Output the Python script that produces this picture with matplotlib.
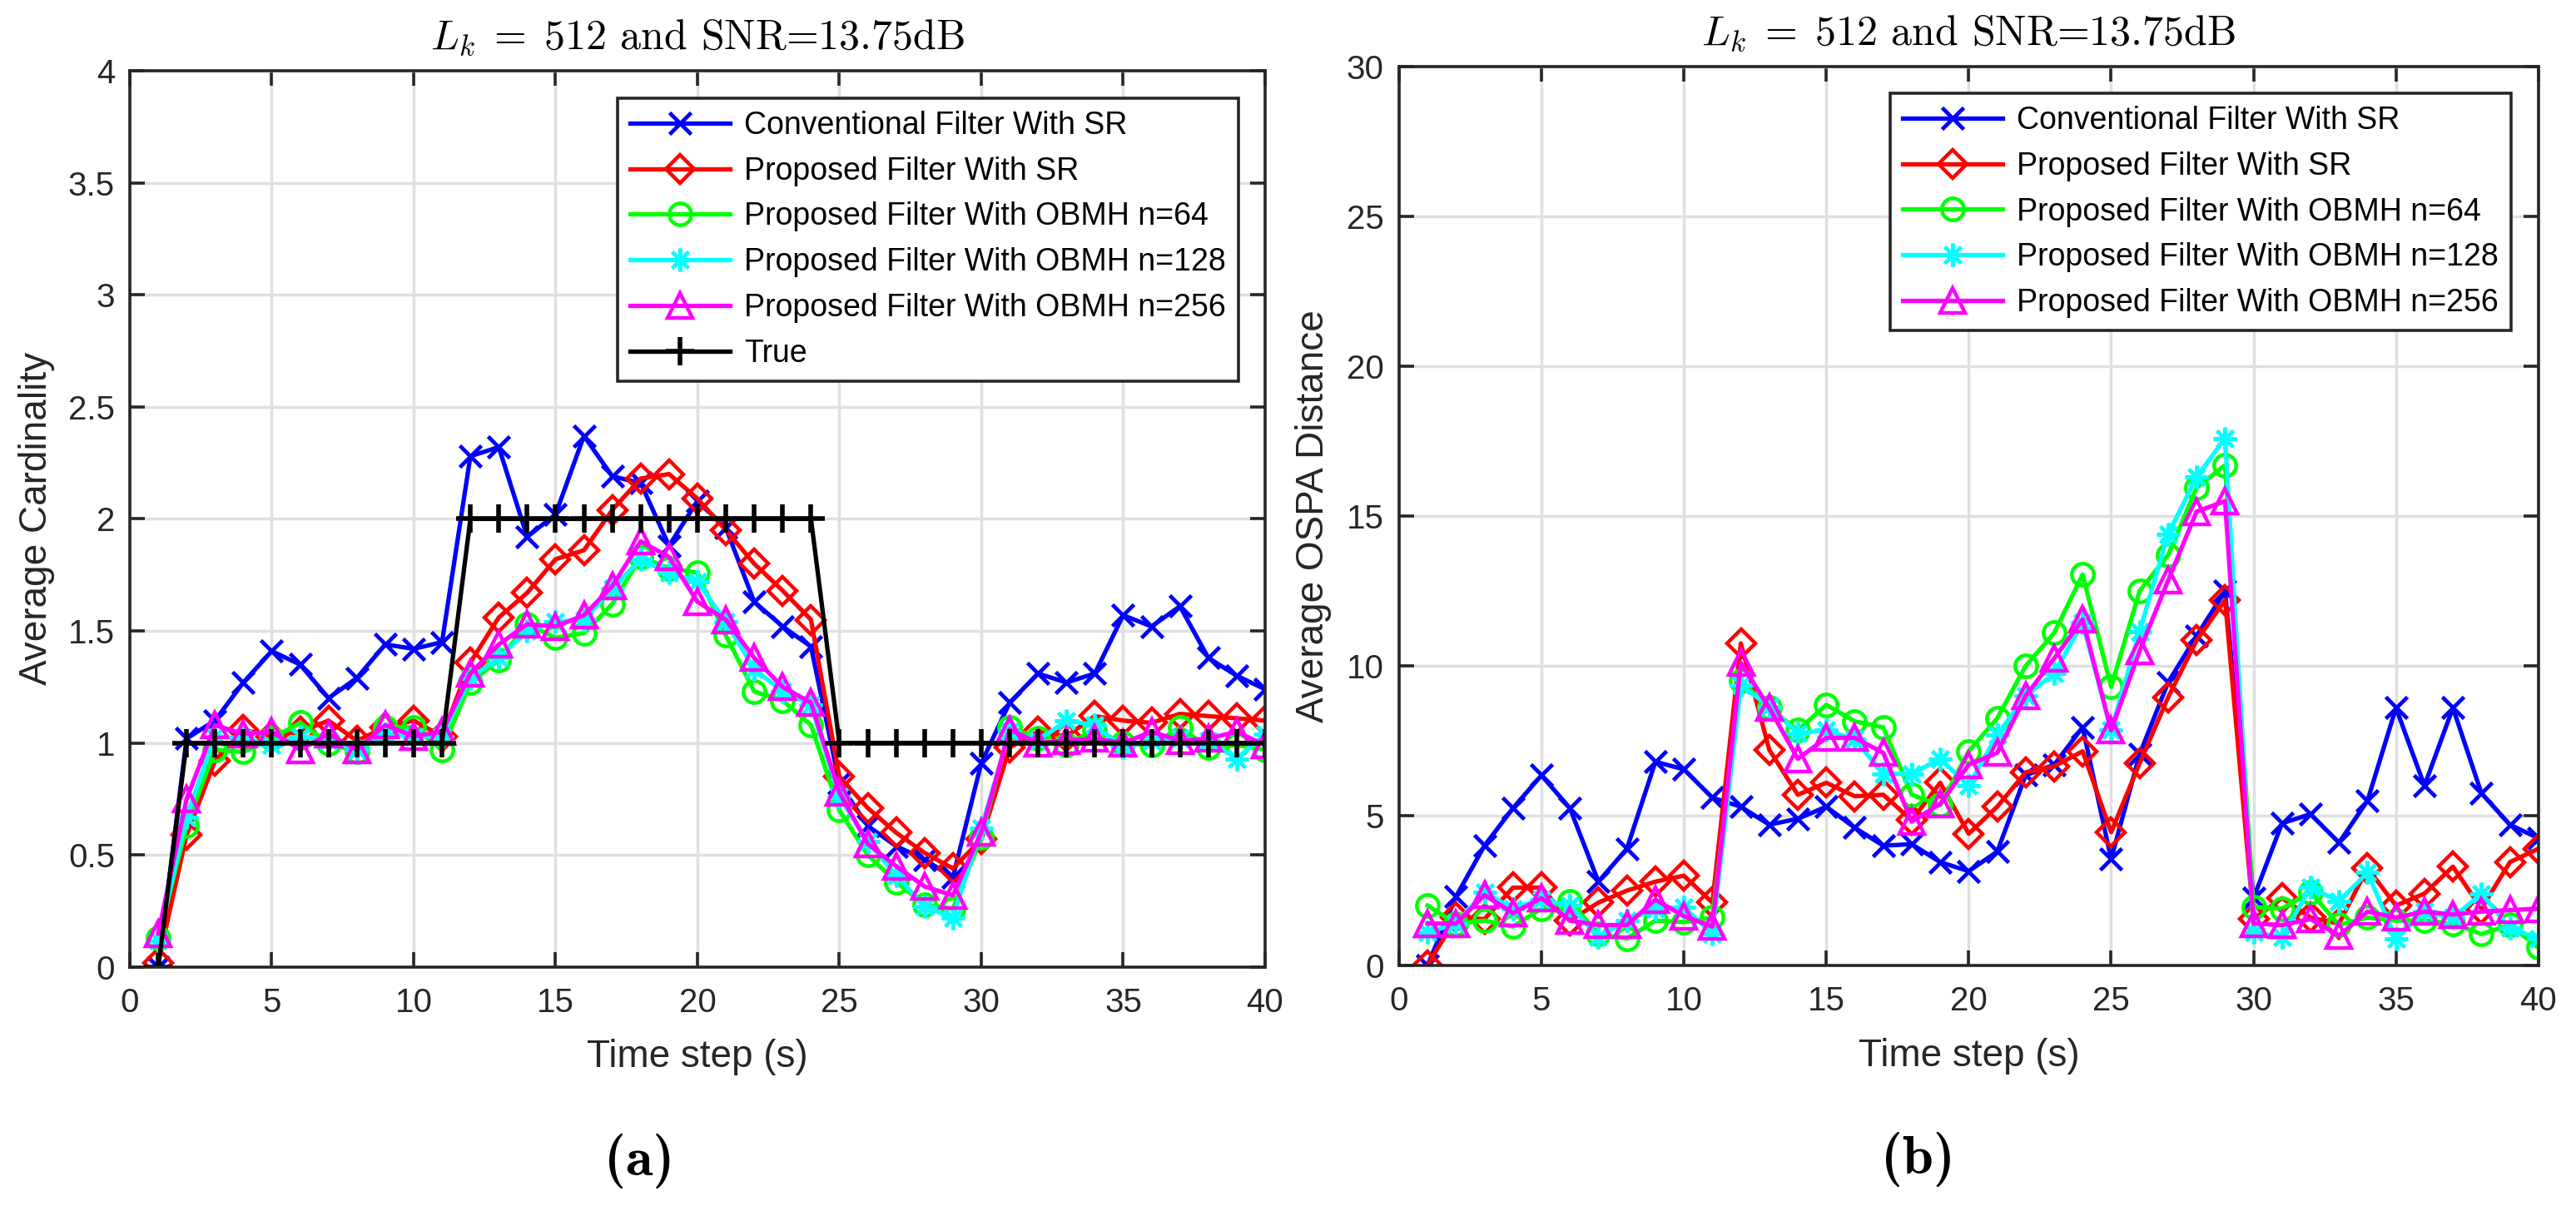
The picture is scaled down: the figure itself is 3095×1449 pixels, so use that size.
import matplotlib
matplotlib.use('Agg')
import matplotlib.pyplot as plt
from matplotlib.ticker import FormatStrFormatter

# time steps
time_steps = list(range(1, 41))

# (a) average cardinality
card_true = [0, 1, 1, 1, 1, 1, 1, 1, 1, 1, 1, 2, 2, 2, 2, 2, 2, 2, 2, 2,
             2, 2, 2, 2, 1, 1, 1, 1, 1, 1, 1, 1, 1, 1, 1, 1, 1, 1, 1, 1]
card_conv = [0.00, 1.02, 1.10, 1.27, 1.41, 1.35, 1.20, 1.29, 1.44, 1.42,
             1.45, 2.28, 2.32, 1.92, 2.02, 2.37, 2.19, 2.16, 1.88, 2.08,
             1.96, 1.63, 1.52, 1.43, 0.82, 0.63, 0.54, 0.48, 0.40, 0.91,
             1.18, 1.31, 1.27, 1.31, 1.57, 1.52, 1.61, 1.38, 1.30, 1.24]
card_sr = [0.02, 0.59, 0.92, 1.06, 1.03, 1.05, 1.10, 1.01, 1.07, 1.10,
           1.03, 1.36, 1.56, 1.67, 1.82, 1.86, 2.04, 2.18, 2.20, 2.09,
           1.95, 1.80, 1.68, 1.55, 0.85, 0.71, 0.60, 0.51, 0.44, 0.57,
           0.98, 1.05, 1.03, 1.12, 1.10, 1.09, 1.13, 1.12, 1.11, 1.10]
card_64 = [0.13, 0.63, 0.97, 0.96, 1.02, 1.09, 1.00, 0.96, 1.07, 1.07,
           0.97, 1.27, 1.37, 1.53, 1.47, 1.49, 1.62, 1.83, 1.78, 1.76,
           1.48, 1.23, 1.19, 1.08, 0.70, 0.50, 0.38, 0.28, 0.26, 0.58,
           1.07, 1.02, 0.99, 1.06, 1.00, 0.99, 1.07, 0.98, 0.99, 0.97]
card_128 = [0.12, 0.67, 1.03, 1.02, 0.99, 1.03, 1.01, 0.97, 1.04, 1.03,
            1.03, 1.29, 1.38, 1.50, 1.54, 1.55, 1.69, 1.82, 1.76, 1.72,
            1.54, 1.33, 1.23, 1.17, 0.76, 0.56, 0.41, 0.27, 0.22, 0.62,
            1.05, 1.01, 1.10, 1.08, 0.98, 1.01, 1.02, 1.01, 0.93, 1.04]
card_256 = [0.15, 0.75, 1.08, 1.04, 1.05, 0.97, 1.04, 0.97, 1.08, 1.03,
            1.05, 1.31, 1.44, 1.53, 1.52, 1.57, 1.70, 1.90, 1.83, 1.63,
            1.55, 1.38, 1.25, 1.18, 0.78, 0.55, 0.45, 0.36, 0.32, 0.60,
            1.06, 1.00, 1.01, 1.02, 1.00, 1.05, 1.01, 1.02, 1.05, 0.99]

# (b) average OSPA distance
ospa_conv = [0.0, 2.3, 4.0, 5.25, 6.35, 5.25, 2.8, 3.9, 6.8, 6.55,
             5.6, 5.3, 4.7, 4.9, 5.3, 4.6, 4.0, 4.05, 3.45, 3.15,
             3.8, 6.35, 6.7, 7.95, 3.55, 7.05, 9.45, 11.0, 12.5, 2.25,
             4.75, 5.05, 4.1, 5.5, 8.6, 6.0, 8.6, 5.75, 4.7, 4.25]
ospa_sr = [0.0, 1.6, 1.55, 2.6, 2.6, 1.5, 2.1, 2.5, 2.8, 3.0,
           2.1, 10.75, 7.2, 5.7, 6.1, 5.65, 5.7, 4.85, 6.1, 4.4,
           5.3, 6.45, 6.65, 7.15, 4.45, 6.75, 8.95, 10.85, 12.2, 1.55,
           2.25, 1.6, 1.4, 3.25, 2.0, 2.4, 3.3, 1.9, 3.45, 3.9]
ospa_64 = [2.0, 1.4, 1.5, 1.3, 1.9, 2.15, 1.05, 0.9, 1.5, 1.45,
           1.6, 9.5, 8.6, 7.85, 8.7, 8.15, 7.95, 5.7, 5.35, 7.15,
           8.25, 10.0, 11.1, 13.05, 9.3, 12.5, 13.7, 15.95, 16.7, 1.95,
           1.9, 2.45, 1.35, 1.6, 1.5, 1.5, 1.4, 1.05, 1.35, 0.6]
ospa_128 = [1.1, 1.4, 2.45, 1.9, 2.2, 2.0, 0.95, 1.5, 1.9, 1.95,
            1.05, 9.35, 8.65, 7.75, 7.85, 7.55, 6.4, 6.4, 6.9, 6.0,
            7.7, 9.0, 9.75, 11.45, 7.85, 11.15, 14.4, 16.3, 17.6, 1.1,
            0.95, 2.6, 2.15, 3.1, 0.9, 1.8, 1.6, 2.4, 1.25, 0.9]
ospa_256 = [1.4, 1.4, 2.35, 1.75, 2.25, 1.5, 1.35, 1.35, 2.2, 1.65,
            1.3, 10.1, 8.6, 6.9, 7.6, 7.6, 7.1, 4.8, 5.4, 6.7,
            7.1, 9.0, 10.25, 11.55, 7.85, 10.5, 12.85, 15.15, 15.5, 1.4,
            1.35, 1.55, 1.0, 1.8, 1.6, 1.8, 1.7, 1.8, 1.85, 1.9]

labels = ['Conventional Filter With SR',
          'Proposed Filter With SR',
          'Proposed Filter With OBMH n=64',
          'Proposed Filter With OBMH n=128',
          'Proposed Filter With OBMH n=256',
          'True']

# style of each series (matlab-like)
styles = [dict(color='#0000ff', marker='x', ms=19, mew=3.4),
          dict(color='#ff0000', marker='D', ms=17, mew=3.2),
          dict(color='#00ff00', marker='o', ms=19, mew=3.2),
          dict(color='#00ffff', marker=(8, 2, 0), ms=20, mew=3.0),
          dict(color='#ff00ff', marker='^', ms=21, mew=3.2),
          dict(color='#000000', marker='+', ms=24, mew=4.0)]

plt.rcParams['font.family'] = ['Liberation Sans', 'DejaVu Sans']
plt.rcParams['mathtext.fontset'] = 'cm'
dark = '#262626'

fig = plt.figure(figsize=(30.95, 14.49), dpi=100)
ax_a = fig.add_axes([0.0504, 0.1981, 0.4407, 0.7433])
ax_b = fig.add_axes([0.5431, 0.1994, 0.4423, 0.7453])


def draw(ax, series, ymax, ylabel, legend_anchor):
    for (ys, lab, st) in zip(series, labels, styles):
        ax.plot(time_steps, ys, label=lab, color=st['color'], lw=3.8,
                marker=st['marker'], ms=st['ms'], mew=st['mew'],
                mfc='none', mec=st['color'])
    ax.set_xlim(0, 40)
    ax.set_ylim(0, ymax)
    ax.set_xticks(range(0, 41, 5))
    ax.yaxis.set_major_formatter(FormatStrFormatter('%g'))
    ax.grid(True, color='#dfdfdf', lw=2.5)
    ax.set_axisbelow(True)
    for sp in ax.spines.values():
        sp.set_color(dark)
        sp.set_linewidth(2.6)
    ax.tick_params(direction='in', length=13, width=2.6, colors=dark,
                   labelsize=29, top=True, right=True)
    ax.tick_params(axis='x', pad=17)
    ax.tick_params(axis='y', pad=13)
    ax.set_xlabel('Time step (s)', fontsize=33, color=dark, va='center')
    ax.set_ylabel(ylabel, fontsize=33, color=dark, va='center')
    ax.text(0.5, 1.037, r'$L_k\;=\;512$ and SNR=13.75dB',
            transform=ax.transAxes, ha='center', va='center', fontsize=36,
            family='cmr10')
    leg = ax.legend(loc='upper right', bbox_to_anchor=legend_anchor,
                    bbox_transform=fig.transFigure, borderaxespad=0,
                    fontsize=27, fancybox=False, framealpha=1,
                    edgecolor=dark, handlelength=3.2, handletextpad=0.45,
                    labelspacing=0.5, borderpad=0.4)
    leg.get_frame().set_linewidth(2.6)


draw(ax_a, [card_conv, card_sr, card_64, card_128, card_256, card_true],
     4, 'Average Cardinality', (0.4808, 0.9186))
ax_a.xaxis.set_label_coords(0.5, -0.100)
ax_a.yaxis.set_label_coords(-0.082, 0.5)

draw(ax_b, [ospa_conv, ospa_sr, ospa_64, ospa_128, ospa_256],
     30, 'Average OSPA Distance', (0.9748, 0.9227))
ax_b.xaxis.set_label_coords(0.5, -0.101)
ax_b.yaxis.set_label_coords(-0.075, 0.5)

# sub-figure captions
fig.text(768 / 3095, 1 - 1395 / 1449, '(a)', ha='center', va='center',
         fontsize=48, family='cmb10')
fig.text(2304 / 3095, 1 - 1393 / 1449, '(b)', ha='center', va='center',
         fontsize=48, family='cmb10')

fig.savefig('out.png', dpi=100)
